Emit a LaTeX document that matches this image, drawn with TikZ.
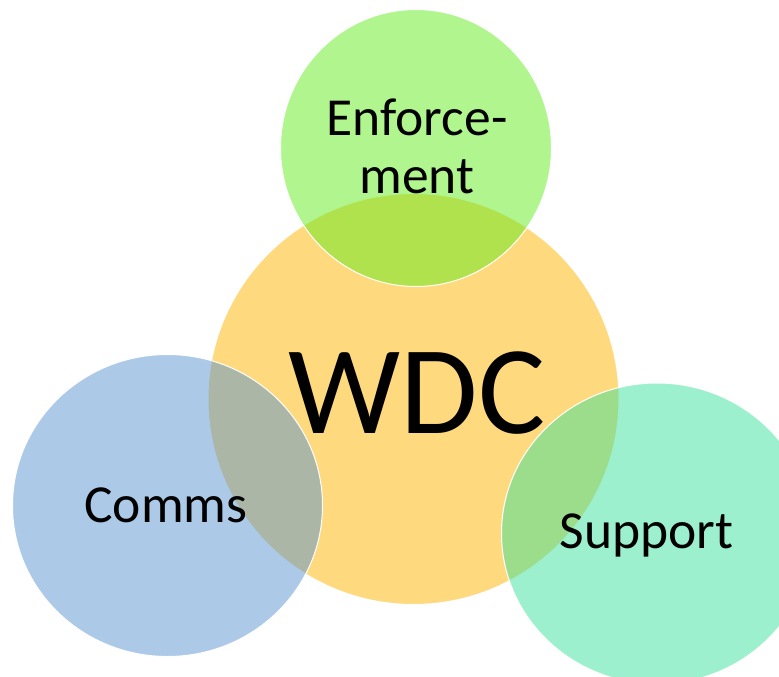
\documentclass[tikz,border=0pt]{standalone}
\usepackage{fontspec}
\usetikzlibrary{shapes.geometric}
\setmainfont{Carlito}
\tikzset{
  venn/.style={ellipse,draw=white,line width=1pt,inner sep=0pt},
  lab/.style={font=\fontsize{53.5}{58}\selectfont,align=center,text=black,inner sep=0pt}
}
\definecolor{wdcc}{RGB}{255,217,125}
\definecolor{enfc}{RGB}{97,235,29}
\definecolor{comc}{RGB}{89,149,209}
\definecolor{supc}{RGB}{59,225,155}
\begin{document}
\begin{tikzpicture}[x=1pt,y=-1pt]
\useasboundingbox (0,0) rectangle (779,677);
\clip (0,0) rectangle (779,677);
\node[venn,fill=wdcc,minimum width=411pt,minimum height=411pt] (wdc) at (413.5,399) {};
\node[venn,fill=enfc,fill opacity=.5,minimum width=271pt,minimum height=277pt] (enf) at (416,148) {};
\node[venn,fill=comc,fill opacity=.5,minimum width=310pt,minimum height=302pt] (com) at (167.5,505.5) {};
\node[venn,fill=supc,fill opacity=.5,minimum width=311pt,minimum height=301pt] (sup) at (657,533.5) {};
\node[lab] (tenf) at (417,146) {Enforce-\\ment};
\node[lab] (tcom) at (166,505) {Comms};
\node[lab] (tsup) at (646.5,535.5) {Support};
\node[lab,font=\fontsize{126}{130}\selectfont] (twdc) at (417,393) {WDC};
\end{tikzpicture}
\end{document}
